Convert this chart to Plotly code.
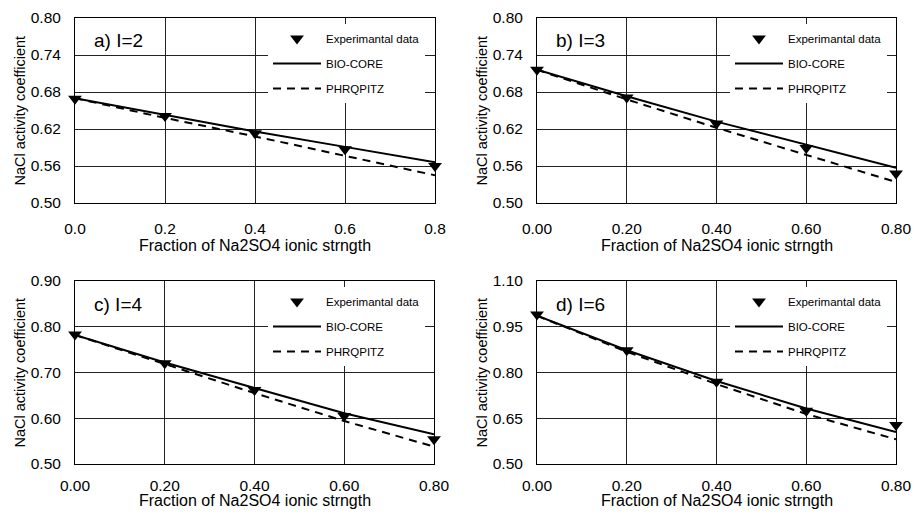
import plotly.graph_objects as go

# Fraction of Na2SO4 ionic strength
fraction = [0.0, 0.2, 0.4, 0.6, 0.8]

# NaCl activity coefficients for each ionic strength I
exp_i2 = [0.669, 0.641, 0.613, 0.587, 0.560]
bio_i2 = [0.670, 0.643, 0.616, 0.591, 0.566]
phr_i2 = [0.670, 0.638, 0.608, 0.577, 0.545]

exp_i3 = [0.716, 0.671, 0.629, 0.589, 0.548]
bio_i3 = [0.716, 0.673, 0.632, 0.594, 0.557]
phr_i3 = [0.716, 0.668, 0.622, 0.578, 0.534]

exp_i4 = [0.783, 0.720, 0.662, 0.605, 0.554]
bio_i4 = [0.782, 0.722, 0.666, 0.611, 0.565]
phr_i4 = [0.782, 0.718, 0.655, 0.594, 0.538]

exp_i6 = [0.990, 0.873, 0.770, 0.675, 0.628]
bio_i6 = [0.986, 0.873, 0.772, 0.682, 0.605]
phr_i6 = [0.986, 0.868, 0.762, 0.664, 0.581]

panel_labels = ["a) I=2", "b) I=3", "c) I=4", "d) I=6"]
series_names = ["Experimantal data", "BIO-CORE", "PHRQPITZ"]
x_title = "Fraction of Na2SO4 ionic strngth"
y_title = "NaCl activity coefficient"

y_ranges = [[0.50, 0.80], [0.50, 0.80], [0.50, 0.90], [0.50, 1.10]]
y_ticks = [
    [0.50, 0.56, 0.62, 0.68, 0.74, 0.80],
    [0.50, 0.56, 0.62, 0.68, 0.74, 0.80],
    [0.50, 0.60, 0.70, 0.80, 0.90],
    [0.50, 0.65, 0.80, 0.95, 1.10],
]
x_ticks = [0.0, 0.2, 0.4, 0.6, 0.8]
x_formats = [".1f", ".2f", ".2f", ".2f"]

panels = [
    (exp_i2, bio_i2, phr_i2),
    (exp_i3, bio_i3, phr_i3),
    (exp_i4, bio_i4, phr_i4),
    (exp_i6, bio_i6, phr_i6),
]

W, H = 915, 514
# plot areas in pixels: (left, right, top, bottom)
boxes = [
    (75, 435, 18, 203),
    (537, 896, 18, 203),
    (75, 434, 281, 464),
    (537, 896, 281, 464),
]
# per-panel spacing (px) of x tick labels and x title below the plot area
x_label_gap = [11, 11, 7, 7]
x_title_gap = [42, 42, 36, 36]

FONT = "Liberation Sans, Arial, sans-serif"
fig = go.Figure()

for i, ((exp, bio, phr), box) in enumerate(zip(panels, boxes)):
    n = "" if i == 0 else str(i + 1)
    xa, ya = "x" + n, "y" + n
    leg = "legend" + n
    fig.add_trace(go.Scatter(
        x=fraction, y=bio, mode="lines", name=series_names[1],
        line=dict(color="black", width=2), xaxis=xa, yaxis=ya,
        legend=leg, legendgroup=f"b{i}", legendrank=2))
    fig.add_trace(go.Scatter(
        x=fraction, y=phr, mode="lines", name=series_names[2],
        line=dict(color="black", width=2, dash="8px,6px"), xaxis=xa, yaxis=ya,
        legend=leg, legendgroup=f"p{i}", legendrank=3))
    fig.add_trace(go.Scatter(
        x=fraction, y=exp, mode="markers", name=series_names[0],
        marker=dict(symbol="triangle-down", size=12, color="black"),
        xaxis=xa, yaxis=ya, legend=leg, legendgroup=f"e{i}", legendrank=1,
        cliponaxis=False))

    l, r, t, b = box
    axis_common = dict(
        showline=True, linecolor="black", linewidth=1, mirror=True,
        showgrid=True, gridcolor="#222", gridwidth=1, zeroline=False,
        ticks="", automargin=False,
        tickfont=dict(family=FONT, size=15.5, color="black"),
    )
    fig.layout["xaxis" + n] = dict(
        axis_common, domain=[l / W, r / W], anchor=ya, range=[0, 0.8],
        tickvals=x_ticks, tickformat=x_formats[i],
        ticklabelstandoff=x_label_gap[i],
    )
    fig.layout["yaxis" + n] = dict(
        axis_common, domain=[1 - b / H, 1 - t / H], anchor=xa, range=y_ranges[i],
        tickvals=y_ticks[i], tickformat=".2f", ticklabelstandoff=10,
    )
    fig.layout[leg] = dict(
        x=(l + 193) / W, y=1 - (t + 6) / H, xanchor="left", yanchor="top",
        bgcolor="white", borderwidth=0, itemwidth=48,
        font=dict(family=FONT, size=11.5, color="black"),
        traceorder="grouped", tracegroupgap=6,
    )
    # axis titles
    fig.add_annotation(
        text=x_title, xref="paper", yref="paper",
        x=(l + r) / 2 / W, y=1 - (b + x_title_gap[i]) / H,
        xanchor="center", yanchor="middle", showarrow=False,
        font=dict(family=FONT, size=16, color="black"))
    fig.add_annotation(
        text=y_title, xref="paper", yref="paper", textangle=-90,
        x=(l - 56) / W, y=1 - (t + b) / 2 / H,
        xanchor="center", yanchor="middle", showarrow=False,
        font=dict(family=FONT, size=14.5, color="black"))
    fig.add_annotation(
        text=panel_labels[i], xref="paper", yref="paper",
        x=(l + 17) / W, y=1 - (t + 23) / H, xanchor="left", yanchor="middle",
        showarrow=False, font=dict(family=FONT, size=19, color="black"))

fig.update_layout(
    width=W, height=H, margin=dict(l=0, r=0, t=0, b=0),
    paper_bgcolor="white", plot_bgcolor="white",
)

fig.write_html("out.html")
